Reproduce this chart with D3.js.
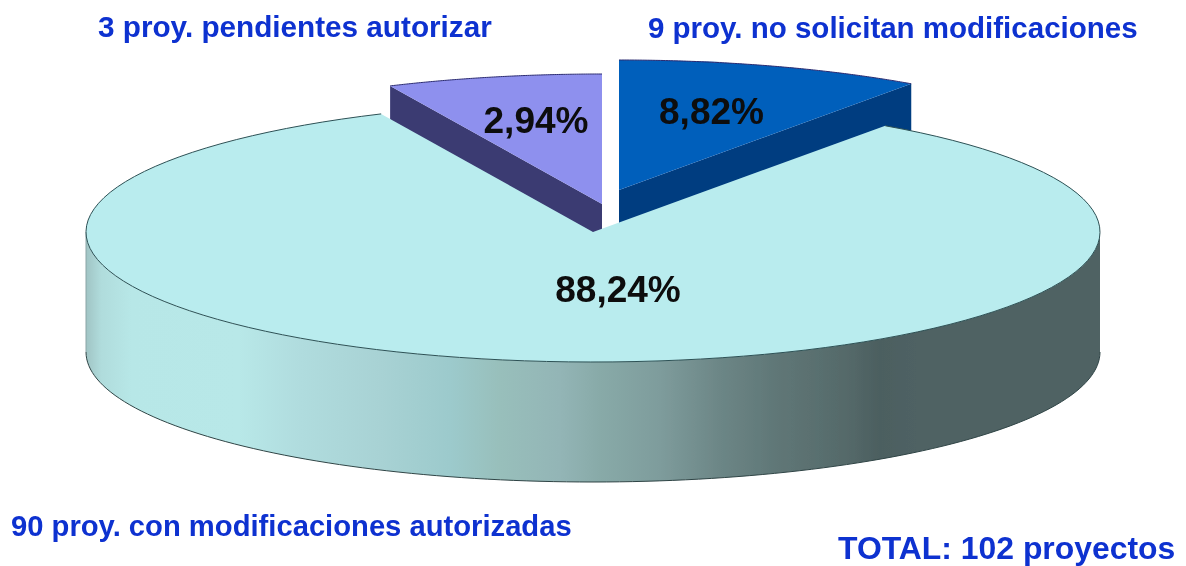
<!DOCTYPE html>
<html><head><meta charset="utf-8">
<script src="https://cdn.jsdelivr.net/npm/d3@7"></script>
<style>html,body{margin:0;padding:0;background:#fff}svg{display:block}
text{font-family:"Liberation Sans",Arial,sans-serif;font-weight:bold}</style>
</head><body><svg id="c" width="1186" height="566"></svg>
<script>
const categories = ["9 proy. no solicitan modificaciones","90 proy. con modificaciones autorizadas","3 proy. pendientes autorizar"];
const projects = [9,90,3];
const percentLabels = ["8,82%","88,24%","2,94%"];
const totalLabel = "TOTAL: 102 proyectos";

const total = d3.sum(projects);
const cum = d3.cumsum(projects).map(v=>v/total);
// The original's perspective stretches the two small slices: share -> drawn angle
const toAngle = d3.scaleLinear().domain([0,cum[0],cum[1],1]).range([0,35.2,335.3,360].map(d=>d*Math.PI/180));
const rx=507, ry=130, depth=120;
const slices = [
 {i:0,cx:619,cy:190,top:"#005fbb",side:"#003c80",lx:711.5,ly:124,nameX:648,nameY:38,fs:29.5},
 {i:1,cx:593,cy:232,top:"#b9ecee",lx:618,ly:302,nameX:11,nameY:536,fs:29.2},
 {i:2,cx:602,cy:204,top:"#8e90ee",side:"#3a3a72",lx:536,ly:133,nameX:98,nameY:37,fs:29.7}
].map(s=>({...s,a0:toAngle(s.i?cum[s.i-1]:0),a1:toAngle(cum[s.i]),name:categories[s.i],pct:percentLabels[s.i]}));

const svg=d3.select("#c");
const defs=svg.append("defs");
defs.append("filter").attr("id","soft").attr("filterUnits","userSpaceOnUse")
  .attr("x",0).attr("y",0).attr("width",1186).attr("height",566)
  .append("feGaussianBlur").attr("stdDeviation",0.45);
const wall=defs.append("linearGradient").attr("id","wall").attr("gradientUnits","userSpaceOnUse")
  .attr("x1",86).attr("x2",1100).attr("y1",0).attr("y2",0);
[[0,"#a0c4c4"],[.015,"#b0dcdc"],[.045,"#b7e7e7"],[.15,"#b8e8e8"],[.211,"#b0dcde"],[.29,"#a8d2d4"],[.359,"#9ccacc"],[.408,"#98bfbb"],[.467,"#93b5b6"],[.507,"#88aaa8"],[.566,"#7e9c9c"],[.625,"#6c8686"],[.684,"#5f7676"],[.744,"#566b6b"],[.783,"#4c5f60"],[.82,"#4f6264"],[1,"#4f6264"]]
  .forEach(([o,c])=>wall.append("stop").attr("offset",o).attr("stop-color",c));

const root=svg.append("g").attr("filter","url(#soft)");
const pt=(s,a,dy=0)=>[s.cx+rx*Math.sin(a),s.cy-ry*Math.cos(a)+dy];
const rim=(s,a0,a1,dy=0)=>d3.range(0,121).map(k=>pt(s,a0+(a1-a0)*k/120,dy));
const line=d3.line();
const arc=d3.arc().innerRadius(0).outerRadius(rx);
const [blue,main,purple]=slices;

root.append("path").attr("d",line([[blue.cx,blue.cy],pt(blue,blue.a1),pt(blue,blue.a1,depth),[blue.cx,blue.cy+depth]])+"Z").attr("fill",blue.side);
root.append("path").attr("d",line([[purple.cx,purple.cy],pt(purple,purple.a0),pt(purple,purple.a0,depth),[purple.cx,purple.cy+depth]])+"Z").attr("fill",purple.side);

const wa=Math.PI/2, wb=3*Math.PI/2;
root.append("path").attr("d",line(rim(main,wa,wb).concat(rim(main,wb,wa,depth)))+"Z").attr("fill","url(#wall)");
root.append("path").attr("d",line(rim(main,wa,wb,depth))).attr("fill","none").attr("stroke","#2f4445").attr("stroke-width",1);
root.append("path").attr("d",line([pt(main,wb),pt(main,wb,depth)])).attr("stroke","#8aa5a6").attr("stroke-width",1);

slices.forEach(s=>{
  root.append("path").attr("d",arc({startAngle:s.a0,endAngle:s.a1}))
    .attr("transform",`translate(${s.cx},${s.cy}) scale(1,${ry/rx})`).attr("fill",s.top);
  root.append("path").attr("d",line(rim(s,s.a0,s.a1))).attr("fill","none")
    .attr("stroke",s.i===1?"#2c5054":"#2a2a70").attr("stroke-width",1);
});

root.selectAll("text.pct").data(slices).join("text").attr("class","pct")
  .attr("x",d=>d.lx).attr("y",d=>d.ly).attr("text-anchor","middle")
  .attr("font-size",37).attr("fill","#0a0a0a").text(d=>d.pct);
root.selectAll("text.name").data(slices).join("text").attr("class","name")
  .attr("x",d=>d.nameX).attr("y",d=>d.nameY).attr("font-size",d=>d.fs)
  .attr("fill","#1030d0").text(d=>d.name);
root.append("text").attr("x",838).attr("y",558.5).attr("font-size",31.9).attr("fill","#1030d0").text(totalLabel);
</script></body></html>
